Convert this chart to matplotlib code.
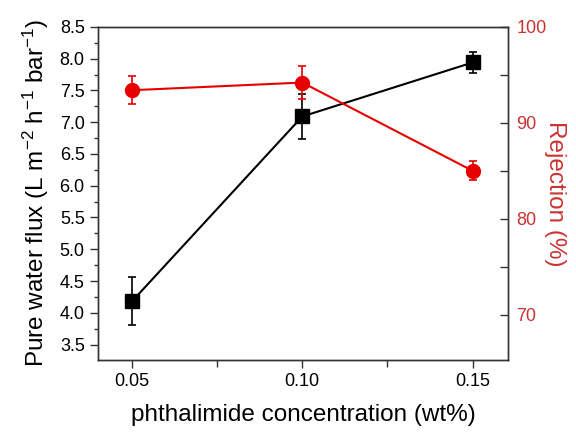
import matplotlib.pyplot as plt
from matplotlib.ticker import MultipleLocator

plt.rcParams['font.family'] = ['Liberation Sans', 'DejaVu Sans']
plt.rcParams['mathtext.fontset'] = 'custom'
plt.rcParams['mathtext.rm'] = 'Liberation Sans'
plt.rcParams['mathtext.it'] = 'Liberation Sans:italic'

# data
conc = [0.05, 0.10, 0.15]
flux = [4.18, 7.09, 7.94]
flux_err = [0.38, 0.36, 0.17]
rejection = [93.4, 94.2, 85.0]
rejection_err = [1.45, 1.7, 1.0]

red = '#e60000'
red_text = '#cc3333'
spine_col = '#333333'

fig = plt.figure(figsize=(5.76, 4.34), dpi=100)
ax = fig.add_axes([0.170, 0.171, 0.712, 0.767])
ax2 = ax.twinx()

ax.errorbar(conc, flux, yerr=flux_err, color='black', lw=1.5, marker='s',
            ms=10, capsize=3, elinewidth=1.2, capthick=1.2, zorder=3)
ax2.errorbar(conc, rejection, yerr=rejection_err, color=red, lw=1.5, marker='o',
             ms=10, capsize=3, elinewidth=1.2, capthick=1.2, zorder=3)

ax.set_xlim(0.040, 0.1604)
ax.set_ylim(3.26, 8.5)
ax2.set_ylim(65.3, 100)

ax.set_xticks(conc)
ax.set_xticklabels(['0.05', '0.10', '0.15'])
ax.xaxis.set_minor_locator(MultipleLocator(0.025))
ax.yaxis.set_major_locator(MultipleLocator(0.5))
ax.yaxis.set_minor_locator(MultipleLocator(0.25))
ax2.yaxis.set_major_locator(MultipleLocator(10))
ax2.yaxis.set_minor_locator(MultipleLocator(5))

ax.tick_params(axis='both', which='major', direction='out', length=6, width=1,
               labelsize=13, color=spine_col)
ax.tick_params(axis='y', which='minor', direction='out', length=3, width=1,
               color=spine_col)
ax.tick_params(axis='x', which='minor', direction='out', length=5, width=1,
               color=spine_col)
ax.tick_params(axis='y', right=False)
ax.tick_params(axis='x', top=False, which='both')
ax2.tick_params(axis='y', which='major', direction='in', length=6, width=1,
                labelsize=13, labelcolor=red_text, color=spine_col, pad=6)
ax2.tick_params(axis='y', which='minor', direction='in', length=6, width=1,
                color=spine_col)

for a in (ax, ax2):
    for s in a.spines.values():
        s.set_color(spine_col)
        s.set_linewidth(1)

ax.set_xlabel('phthalimide concentration (wt%)', fontsize=17.5, labelpad=10)
ax.set_ylabel('Pure water flux (L m$^{-2}$ h$^{-1}$ bar$^{-1}$)', fontsize=17.5, labelpad=6)
ax2.set_ylabel('Rejection (%)', fontsize=17.5, color=red_text, rotation=270, labelpad=14)

fig.savefig('out.png', dpi=100)
